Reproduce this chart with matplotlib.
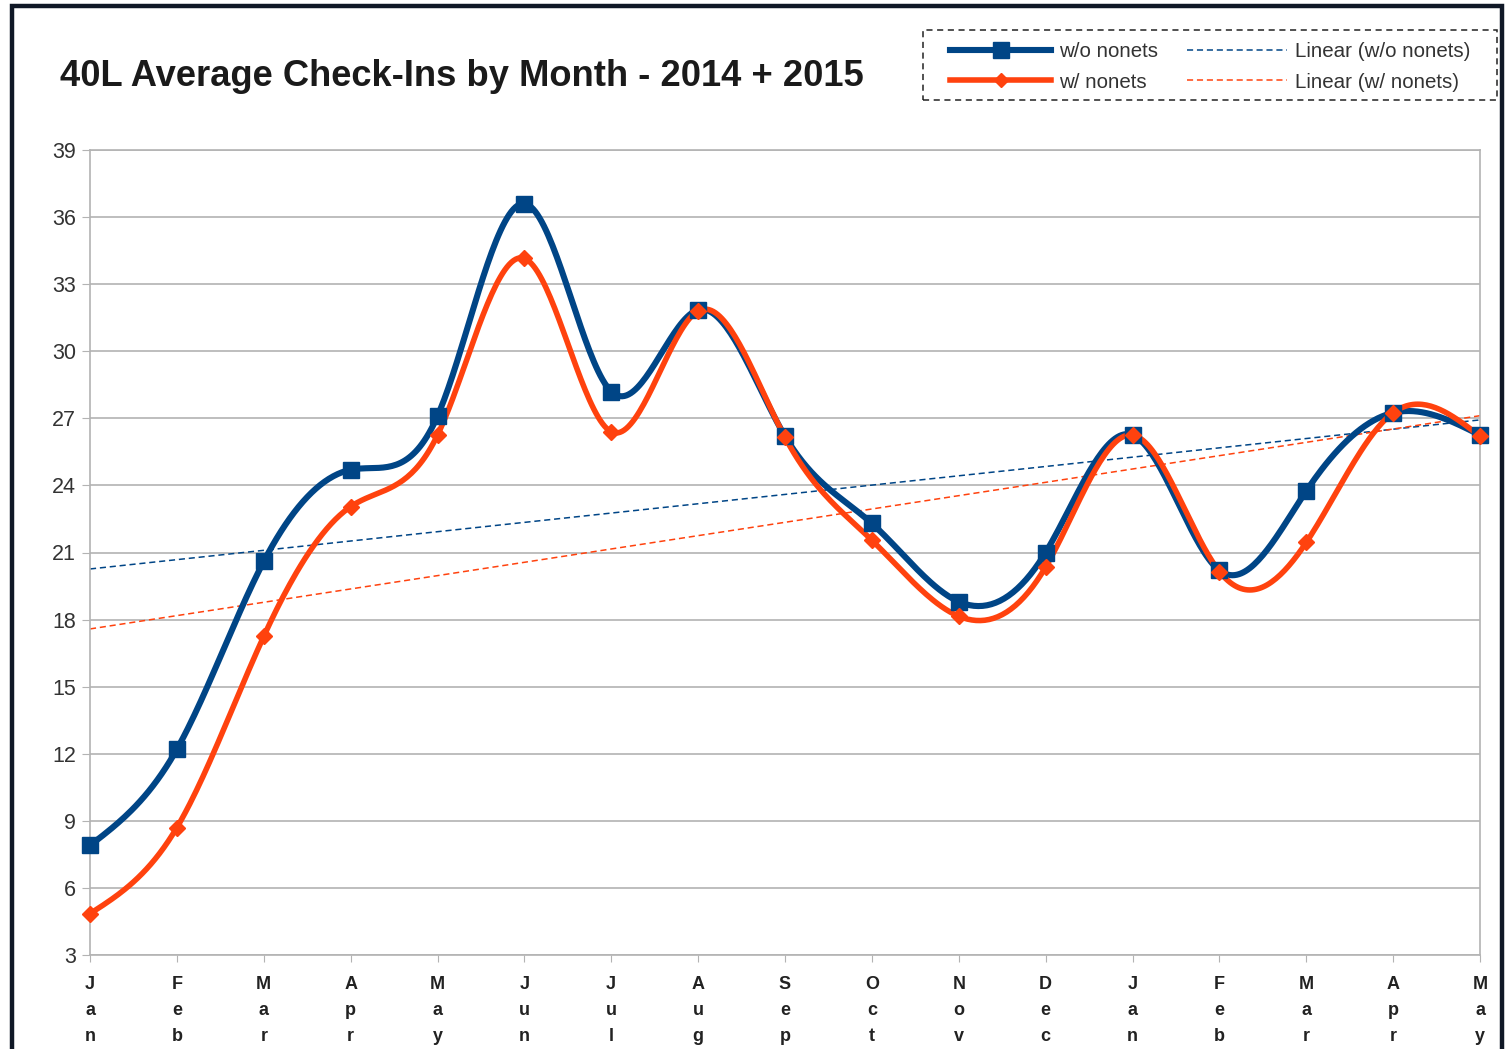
import numpy as np
import matplotlib.pyplot as plt
from matplotlib.patches import Rectangle

plt.rcParams['font.family'] = ['Liberation Sans', 'DejaVu Sans']

months = ['Jan', 'Feb', 'Mar', 'Apr', 'May', 'Jun', 'Jul', 'Aug', 'Sep',
          'Oct', 'Nov', 'Dec', 'Jan', 'Feb', 'Mar', 'Apr', 'May']
wo_nonets = [7.9, 12.2, 20.6, 24.7, 27.1, 36.6, 28.2, 31.85, 26.2,
             22.3, 18.8, 21.0, 26.25, 20.2, 23.75, 27.25, 26.25]
w_nonets = [4.85, 8.7, 17.25, 23.05, 26.25, 34.15, 26.4, 31.8, 26.15,
            21.55, 18.15, 20.35, 26.25, 20.15, 21.45, 27.25, 26.2]

BLUE = '#004586'
ORANGE = '#ff420e'
GRID = '#b3b3b3'


def natural_spline(y, n=40):
    # natural cubic spline through equally spaced points (like the office "smooth" line)
    y = np.asarray(y, float)
    k = len(y)
    A = np.zeros((k, k))
    b = np.zeros(k)
    A[0, 0] = A[-1, -1] = 1
    for i in range(1, k - 1):
        A[i, i - 1], A[i, i], A[i, i + 1] = 1, 4, 1
        b[i] = 6 * (y[i + 1] - 2 * y[i] + y[i - 1])
    M = np.linalg.solve(A, b)
    xs, ys = [], []
    for i in range(k - 1):
        t = np.linspace(0, 1, n, endpoint=(i == k - 2))
        s = ((1 - t) * y[i] + t * y[i + 1]
             + ((1 - t) ** 3 - (1 - t)) * M[i] / 6 + (t ** 3 - t) * M[i + 1] / 6)
        xs.append(i + t)
        ys.append(s)
    return np.concatenate(xs), np.concatenate(ys)


fig = plt.figure(figsize=(15.09, 10.49), dpi=100)
ax = fig.add_axes([90 / 1509, 1 - 955 / 1049, 1390 / 1509, 805 / 1049])

x = np.arange(len(months))

for data, col, mk, ms, lw in [(wo_nonets, BLUE, 's', 12, 4.4),
                              (w_nonets, ORANGE, 'D', 8, 4.0)]:
    sx, sy = natural_spline(data)
    ax.plot(sx, sy, color=col, lw=lw, solid_capstyle='round', zorder=3)
    ax.plot(x, data, linestyle='none', marker=mk, ms=ms, color=col, clip_on=False, zorder=4)

# legend proxies
h1, = ax.plot([], [], color=BLUE, lw=4.4, marker='s', ms=12, label='w/o nonets')
h2, = ax.plot([], [], color=ORANGE, lw=4.0, marker='D', ms=7, label='w/ nonets')

trend_handles = []
for data, col, lab in [(wo_nonets, BLUE, 'Linear (w/o nonets)'),
                       (w_nonets, ORANGE, 'Linear (w/ nonets)')]:
    m, c = np.polyfit(x, data, 1)
    h, = ax.plot(x, m * x + c, color=col, lw=1.1, dashes=(4, 2.5), zorder=2, label=lab)
    trend_handles.append(h)

ax.set_xlim(0, len(months) - 1)
ax.set_ylim(3, 39)
ax.set_yticks(np.arange(3, 40, 3))
ax.set_xticks(x)
ax.set_xticklabels(['\n'.join(m) for m in months], fontweight='bold',
                   fontsize=13, linespacing=1.68, color='#222222')
ax.tick_params(axis='x', length=5, color=GRID, pad=10)
ax.tick_params(axis='y', length=6, color=GRID, labelsize=15.5, labelcolor='#333333', pad=4)
ax.grid(axis='y', color=GRID, lw=1.2)
ax.set_axisbelow(True)
for sp in ax.spines.values():
    sp.set_color(GRID)
    sp.set_linewidth(1.2)

fig.text(60 / 1509, 1 - 77 / 1049, '40L Average Check-Ins by Month - 2014 + 2015',
         fontsize=26.2, fontweight='bold', color='#1a1a1a', va='center', ha='left')

leg = fig.legend(handles=[h1, h2] + trend_handles, ncol=2,
                 loc='upper left', bbox_to_anchor=(940 / 1509, 1 - 32 / 1049),
                 fontsize=14.8, handlelength=4.9, columnspacing=1.4,
                 handletextpad=0.38, labelspacing=0.55, borderpad=0,
                 frameon=False, labelcolor='#333333')

# dashed legend box
fig.patches.append(Rectangle((923 / 1509, 1 - 100 / 1049), 574 / 1509, 70 / 1049,
                             transform=fig.transFigure, fill=False,
                             edgecolor='#222222', lw=1.1, linestyle=(0, (4, 3))))

# outer chart border
fig.patches.append(Rectangle((12 / 1509, -0.02), 1490 / 1509, 1.02 - 6 / 1049,
                             transform=fig.transFigure, fill=False,
                             edgecolor='#101826', lw=3.2, zorder=10))

fig.savefig('out.png', dpi=100)
